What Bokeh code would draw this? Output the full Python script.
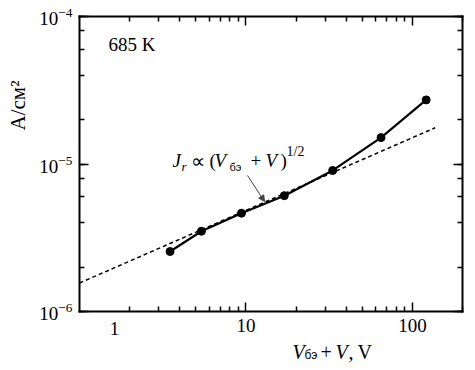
import numpy as np
from bokeh.plotting import figure
from bokeh.models import (LogAxis, LogTicker, FixedTicker, BasicTickFormatter, Label,
                          Arrow, NormalHead, Range1d)
from bokeh.embed import file_html
from bokeh.resources import INLINE

# ---- data ----
volts = [3.5, 5.4, 9.4, 17.0, 33.2, 64.8, 121.0]
current = [2.55e-6, 3.5e-6, 4.64e-6, 6.1e-6, 9.04e-6, 1.51e-5, 2.72e-5]
fit_volts = [1.0, 137.0]
fit_current = [1.56e-6, 1.76e-5]
x_major = [10, 100]
x_minor = [2, 3, 4, 5, 6, 7, 8, 9, 20, 30, 40, 50, 60, 70, 80, 90, 200]
X_LO, X_HI = 1.0, 200.0
Y_LO, Y_HI = 1e-6, 1e-4

SERIF = "Liberation Serif"
SANS = "Liberation Sans"
W, H = 467, 365
# where the axes box sits on the canvas (pixels); the frame covers the whole canvas
FX0, FX1, FY0, FY1 = 79, 462, 16, 311

decx = (FX1 - FX0) / np.log10(X_HI / X_LO)
decy = (FY1 - FY0) / np.log10(Y_HI / Y_LO)
x_start = 10 ** (np.log10(X_LO) - FX0 / decx)
x_end = 10 ** (np.log10(X_LO) + (W - FX0) / decx)
y_end = 10 ** (np.log10(Y_HI) + FY0 / decy)
y_start = 10 ** (np.log10(Y_LO) - (H - FY1) / decy)


def dx(px):
    return 10 ** (np.log10(X_LO) + (px - FX0) / decx)


def dy(py):
    return 10 ** (np.log10(Y_HI) - (py - FY0) / decy)


p = figure(width=W, height=H, x_axis_type="log", y_axis_type="log",
           x_range=Range1d(x_start, x_end), y_range=Range1d(y_start, y_end),
           x_axis_location=None, y_axis_location=None,
           output_backend="svg", toolbar_location=None,
           min_border_left=0, min_border_right=0, min_border_top=0, min_border_bottom=0)
p.grid.visible = False
p.outline_line_color = None
p.background_fill_color = "white"
p.border_fill_color = "white"

bottom = LogAxis(ticker=FixedTicker(ticks=x_major, minor_ticks=x_minor),
                 formatter=BasicTickFormatter(), fixed_location=Y_LO, bounds=(X_LO, X_HI))
top = LogAxis(ticker=FixedTicker(ticks=x_major, minor_ticks=x_minor),
              fixed_location=Y_HI, bounds=(X_LO, X_HI))
left = LogAxis(ticker=LogTicker(), fixed_location=X_LO, bounds=(Y_LO, Y_HI))
right = LogAxis(ticker=LogTicker(), fixed_location=X_HI, bounds=(Y_LO, Y_HI))
p.add_layout(bottom, "below")
p.add_layout(top, "above")
p.add_layout(left, "left")
p.add_layout(right, "right")

for ax in [bottom, top, left, right]:
    ax.axis_line_width = 2
    ax.axis_line_color = "black"
    ax.axis_line_cap = "square"
    ax.major_tick_in = 9
    ax.major_tick_out = 0
    ax.minor_tick_in = 5
    ax.minor_tick_out = 0
    ax.major_tick_line_width = 1.5
    ax.minor_tick_line_width = 1.5
    ax.major_tick_line_color = "black"
    ax.minor_tick_line_color = "black"
    ax.major_label_text_font = SERIF
    ax.major_label_text_font_size = "19px"
    ax.major_label_text_color = "black"
    ax.major_label_standoff = 7

for ax in [top, right]:
    ax.major_label_text_color = None

# curves
p.line(fit_volts, fit_current, line_color="black", line_width=1.5, line_dash="4 3")
p.line(volts, current, line_color="black", line_width=2.2)
p.scatter(volts, current, size=8, color="black")


def lab(text, px, py, size, style="normal", font=SERIF, align="left", angle=0.0):
    p.add_layout(Label(x=dx(px), y=dy(py), text=text, text_font=font,
                       text_font_size=f"{size}px", text_font_style=style,
                       text_align=align, text_baseline="middle", angle=angle,
                       text_color="black"))


lab("685 K", 108, 44, 19)
lab("1", 114, 328, 19, align="center")
lab("A/см²", 17, 105, 21, align="center", angle=np.pi / 2)

# x-axis title: V_бэ + V, V
lab("V", 292, 351, 20, "italic")
lab("бэ", 304, 354, 12, font=SANS)
lab("+", 320, 351, 20)
lab("V", 335, 351, 20, "italic")
lab(",", 348, 351, 20)
lab("V", 357, 351, 20)

# annotation: J_r ∝ (V_бэ + V)^1/2
lab("J", 172, 160, 19, "italic")
lab("r", 181, 166, 13, "italic")
lab("∝", 190, 160, 20)
lab("(", 209, 160, 19)
lab("V", 214, 160, 19, "italic")
lab("бэ", 229, 166, 11, font=SANS)
lab("+", 250, 160, 19)
lab("V", 265, 160, 19, "italic")
lab(")", 280, 160, 19)
lab("1/2", 286, 151, 14)

p.add_layout(Arrow(end=NormalHead(size=6, fill_color="#444", line_color="#444"),
                   x_start=dx(247), y_start=dy(175), x_end=dx(264), y_end=dy(201),
                   line_color="#444", line_width=1))

open("out.html", "w").write(file_html(p, INLINE))
